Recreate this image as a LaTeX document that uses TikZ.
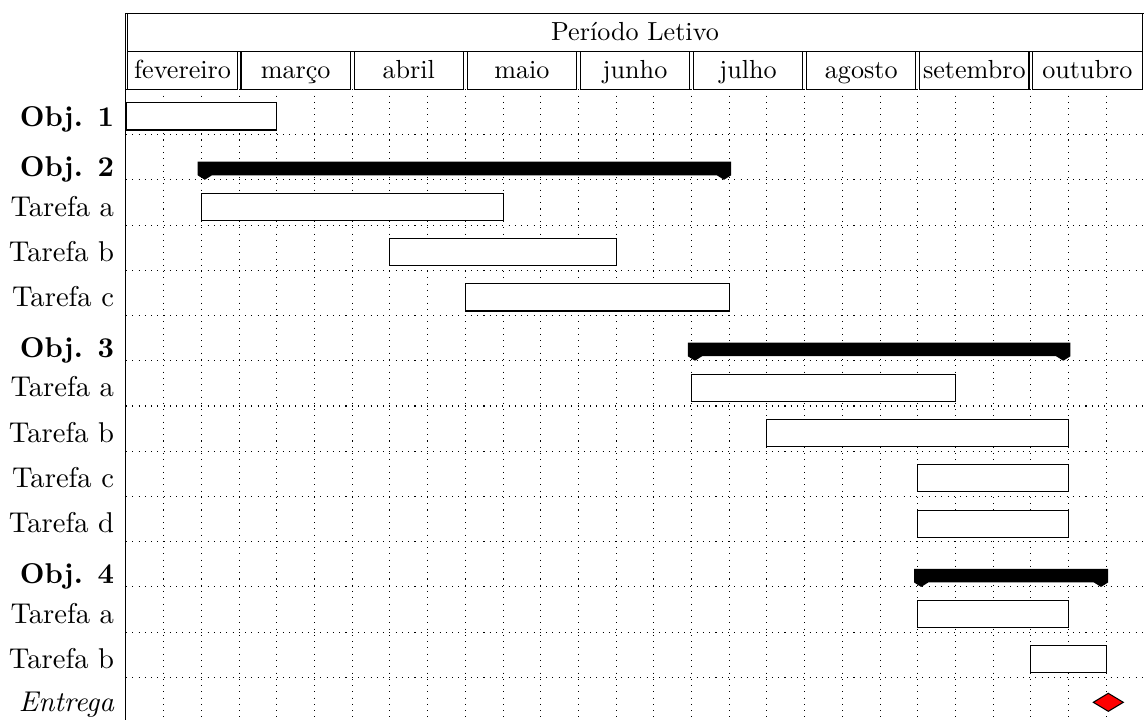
\documentclass[tikz,border=0pt]{standalone}
\begin{document}
\begin{tikzpicture}[x=0.3827pt,y=-0.3827pt,
  gridline/.style={dotted, line width=0.4pt},
  taskbar/.style={draw=black, fill=white, line width=0.4pt},
  groupbar/.style={fill=black},
  titlebox/.style={draw=black, line width=0.4pt},
  titletext/.style={anchor=base, inner sep=0pt, font=\fontsize{10}{12}\selectfont},
  rowlabel/.style={anchor=base east, inner sep=0pt, font=\fontsize{10.95}{13}\selectfont},
  milestone/.style={draw=black, fill=red, line width=0.4pt}]

% chart geometry (column width, chart origin, row height)
\def\cw{37.7037}
\def\xo{126}
\def\rt{89.3}
\def\rh{45.24}

\newcommand{\ganttbox}[3]{%
  \draw[taskbar] ({\xo+(#2-1)*\cw},{\rt+(#1+0.3)*\rh}) rectangle ({\xo+#3*\cw},{\rt+(#1+0.9)*\rh});}
\newcommand{\ganttgroupbar}[3]{%
  \pgfmathsetmacro\grpL{\xo+(#2-1)*\cw-0.1*\cw}%
  \pgfmathsetmacro\grpR{\xo+#3*\cw+0.05*\cw}%
  \pgfmathsetmacro\grpT{\rt+(#1+0.6)*\rh}%
  \pgfmathsetmacro\grpB{\rt+(#1+0.9)*\rh}%
  \pgfmathsetmacro\grpP{\rt+(#1+1.0)*\rh}%
  \pgfmathsetmacro\grpW{0.38*\cw}%
  \fill[groupbar] (\grpL,\grpT) -- (\grpR,\grpT) -- (\grpR,\grpB)
    -- ({\grpR-0.5*\grpW},\grpP) -- ({\grpR-\grpW},\grpB)
    -- ({\grpL+\grpW},\grpB) -- ({\grpL+0.5*\grpW},\grpP)
    -- (\grpL,\grpB) -- cycle;}

\clip (0,0) rectangle (1144,720);

% grid
\foreach \k in {1,...,26}
  \draw[gridline] ({\xo+\k*\cw},\rt) -- ({\xo+\k*\cw},720);
\foreach \r in {0,...,13}
  \draw[gridline] (\xo,{\rt+\r*\rh}) -- (1144,{\rt+\r*\rh});

% canvas border
\draw (125.6,13.3) -- (1144,13.3);
\draw (125.6,13.3) -- (125.6,720);

% titles
\draw[titlebox] ({\xo+0.05*\cw},13.3) rectangle ({1144-0.05*\cw},51.3);
\node[titletext] (periodo) at (635,40) {Período Letivo};
\foreach \m [count=\i from 0] in {fevereiro,março,abril,maio,junho,julho,agosto,setembro,outubro} {
  \draw[titlebox] ({\xo+(3*\i+0.05)*\cw},51.3) rectangle ({\xo+(3*\i+2.95)*\cw},89.3);
  \node[titletext] (month\i) at ({\xo+(3*\i+1.5)*\cw},78) {\m};
}

% bars and groups
\ganttbox{0}{1}{4}
\ganttgroupbar{1}{3}{16}
\ganttbox{2}{3}{10}
\ganttbox{3}{8}{13}
\ganttbox{4}{10}{16}
\ganttgroupbar{5}{16}{25}
\ganttbox{6}{16}{22}
\ganttbox{7}{18}{25}
\ganttbox{8}{22}{25}
\ganttbox{9}{22}{25}
\ganttgroupbar{10}{22}{26}
\ganttbox{11}{22}{25}
\ganttbox{12}{25}{26}

% milestone
\draw[milestone] (1093.3,702.3) -- (1108.3,693.3) -- (1123.3,702.3) -- (1108.3,711.3) -- cycle;

% row labels
\node[rowlabel] (lab0)  at (114.5,{\rt+1*\rh-8})  {\bfseries Obj. 1};
\node[rowlabel] (lab1)  at (114.5,{\rt+2*\rh-3.5}) {\bfseries Obj. 2};
\node[rowlabel] (lab2)  at (114.5,{\rt+3*\rh-9})  {Tarefa a};
\node[rowlabel] (lab3)  at (114.5,{\rt+4*\rh-9})  {Tarefa b};
\node[rowlabel] (lab4)  at (114.5,{\rt+5*\rh-9})  {Tarefa c};
\node[rowlabel] (lab5)  at (114.5,{\rt+6*\rh-3.5}) {\bfseries Obj. 3};
\node[rowlabel] (lab6)  at (114.5,{\rt+7*\rh-9})  {Tarefa a};
\node[rowlabel] (lab7)  at (114.5,{\rt+8*\rh-9})  {Tarefa b};
\node[rowlabel] (lab8)  at (114.5,{\rt+9*\rh-9})  {Tarefa c};
\node[rowlabel] (lab9)  at (114.5,{\rt+10*\rh-9}) {Tarefa d};
\node[rowlabel] (lab10) at (114.5,{\rt+11*\rh-3.5}) {\bfseries Obj. 4};
\node[rowlabel] (lab11) at (114.5,{\rt+12*\rh-9}) {Tarefa a};
\node[rowlabel] (lab12) at (114.5,{\rt+13*\rh-9}) {Tarefa b};
\node[rowlabel] (lab13) at (114.5,711.7) {\itshape Entrega};
\end{tikzpicture}
\end{document}
